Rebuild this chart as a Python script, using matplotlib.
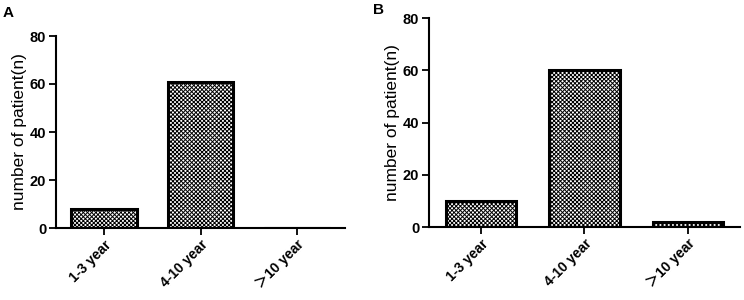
import matplotlib
matplotlib.use("Agg")
import matplotlib.pyplot as plt

categories = ["1-3 year", "4-10 year", "＞10 year"]
values_a = [8, 61, 0]
values_b = [10, 60, 2]
yticks = [0, 20, 40, 60, 80]

plt.rcParams['font.family'] = ['Liberation Sans', 'Noto Sans CJK SC', 'DejaVu Sans']
plt.rcParams['hatch.linewidth'] = 0.7

fig = plt.figure(figsize=(7.44, 3.0), dpi=100)
ax_a = fig.add_axes([0.0753, 0.24, 0.3884, 0.64])
ax_b = fig.add_axes([0.5766, 0.2433, 0.418, 0.6967])

def draw(ax, vals):
    x = list(range(len(categories)))
    ax.bar(x, vals, width=0.68, color='white', edgecolor='black', linewidth=2.2,
           hatch='xxxxxxxx', zorder=2)
    ax.set_xlim(-0.5, 2.5)
    ax.set_ylim(0, 80)
    ax.set_yticks(yticks)
    ax.set_yticklabels([str(t) for t in yticks], fontsize=10.5, fontweight='bold')
    ax.set_xticks(x)
    ax.set_xticklabels(categories, rotation=45, ha='right', rotation_mode='anchor',
                       fontsize=10, fontweight='bold')
    for s in ['top', 'right']:
        ax.spines[s].set_visible(False)
    for s in ['left', 'bottom']:
        ax.spines[s].set_linewidth(1.5)
    ax.tick_params(axis='both', direction='out', length=5, width=1.3, pad=2)
    ax.set_ylabel("number of patient(n)", fontsize=12.5, labelpad=2)

draw(ax_a, values_a)
draw(ax_b, values_b)

fig.text(0.004, 1 - 6/300, "A", fontsize=11, fontweight='bold', va='top', ha='left')
fig.text(0.501, 1 - 3/300, "B", fontsize=11, fontweight='bold', va='top', ha='left')

fig.savefig("out.png", dpi=100)
